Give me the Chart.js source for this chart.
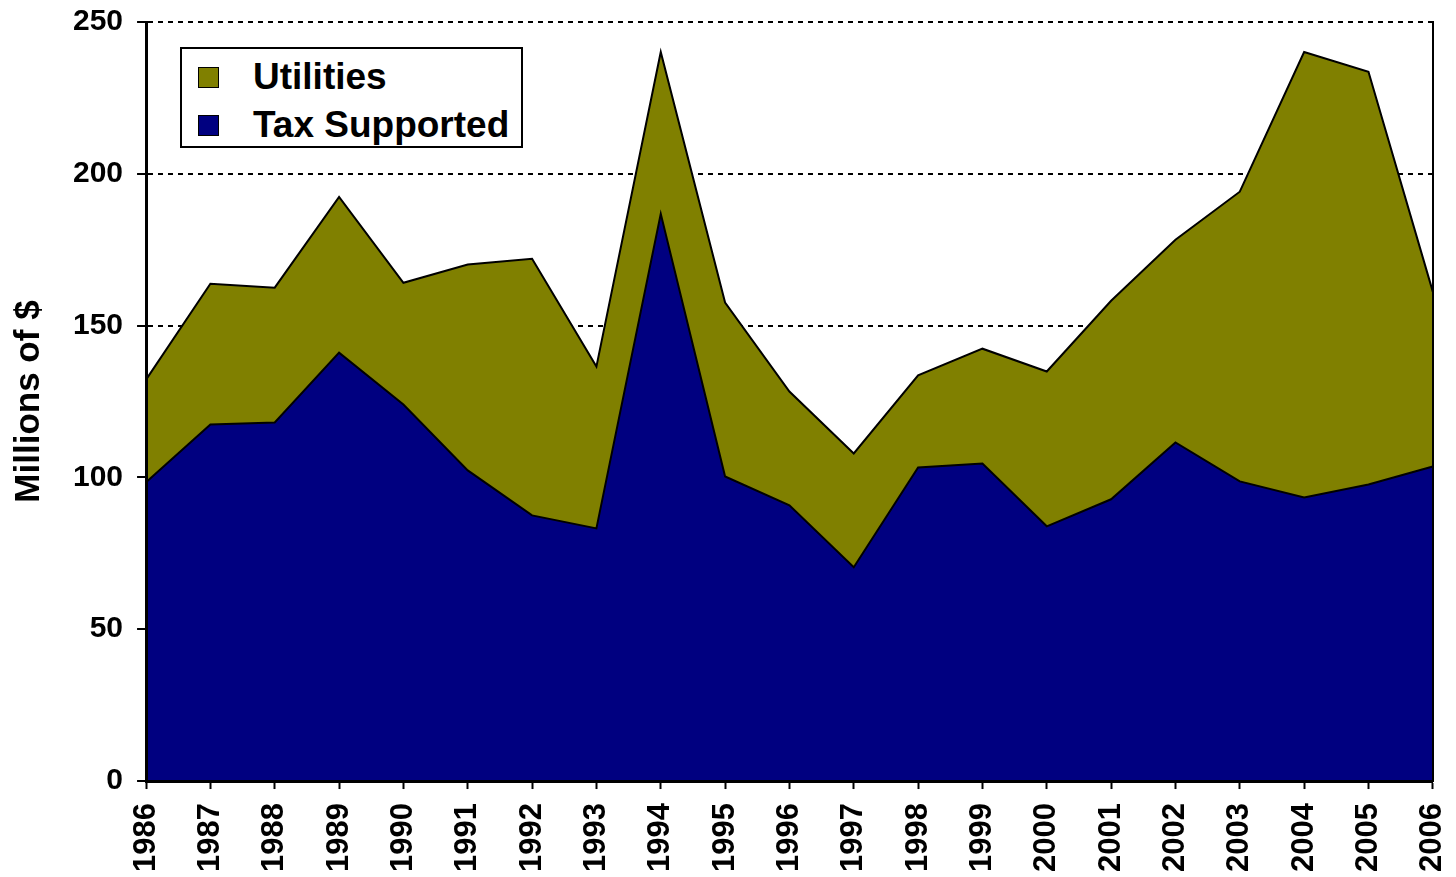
<!DOCTYPE html>
<html>
<head>
<meta charset="utf-8">
<script src="https://cdn.jsdelivr.net/npm/chart.js@4.4.0/dist/chart.umd.min.js"></script>
<style>
  body { margin: 0; background: #fff; overflow: hidden; }
  #wrap { position: relative; width: 1456px; height: 877px; overflow: hidden; }
  #box { position: absolute; left: 0; top: -10px; width: 1484px; height: 904px; }
  #legend {
    position: absolute; left: 180px; top: 47px; width: 339px; height: 97px;
    border: 2px solid #000; background: #fff;
    font-family: "Liberation Sans", Arial, sans-serif; font-weight: bold; font-size: 37px;
  }
  .item { position: absolute; left: 16px; height: 40px; line-height: 40px; white-space: nowrap; }
  .sw { position: absolute; left: 0; top: 10px; width: 19px; height: 19px; border: 1px solid #000; }
  .lbl { position: absolute; left: 55px; top: 0; }
</style>
</head>
<body>
<div id="wrap">
  <div id="box"><canvas id="chart"></canvas></div>
  <div id="legend">
    <div class="item" style="top:8px"><div class="sw" style="background:#808000"></div><span class="lbl">Utilities</span></div>
    <div class="item" style="top:56px"><div class="sw" style="background:#000080"></div><span class="lbl">Tax Supported</span></div>
  </div>
</div>
<script>
//Data
var years = ['1986','1987','1988','1989','1990','1991','1992','1993','1994','1995','1996',
	'1997','1998','1999','2000','2001','2002','2003','2004','2005','2006'];
var taxSupported = [98.4, 117.4, 118.1, 141.1, 124.0, 102.3, 87.5, 83.2, 186.8, 100.3, 90.8,
	70.4, 103.3, 104.6, 83.9, 92.8, 111.5, 98.7, 93.4, 97.7, 103.6];
var utilities = [33.8, 46.4, 44.4, 51.3, 40.1, 67.8, 84.5, 53.3, 53.3, 57.3, 37.5,
	37.5, 30.3, 37.8, 51.0, 65.4, 66.8, 95.4, 146.7, 135.9, 57.6];
var yTicks = [0, 50, 100, 150, 200, 250];

var font = 'Liberation Sans, Arial, sans-serif';

//Render chart
var chart = new Chart(document.getElementById('chart'), {
	type: 'line',
	data: {
		labels: years,
		datasets: [{
			label: 'Tax Supported',
			data: taxSupported,
			fill: 'origin',
			backgroundColor: '#000080',
			borderColor: '#000000',
			borderWidth: 2,
			pointRadius: 0,
			tension: 0
		},{
			label: 'Utilities',
			data: utilities,
			fill: '-1',
			backgroundColor: '#808000',
			borderColor: '#000000',
			borderWidth: 2,
			pointRadius: 0,
			tension: 0
		}]
	},
	options: {
		responsive: true,
		maintainAspectRatio: false,
		animation: false,
		layout: {
			padding: { left: 8, right: 0, top: 0, bottom: 8 }
		},
		scales: {
			x: {
				offset: false,
				grid: {
					drawOnChartArea: false,
					drawTicks: true,
					tickLength: 8,
					tickWidth: 2,
					color: '#000000'
				},
				border: { color: '#000000', width: 3, z: 1 },
				ticks: {
					maxRotation: 90,
					minRotation: 90,
					autoSkip: false,
					padding: 14,
					color: '#000000',
					font: { family: font, weight: 'bold', size: 31 }
				}
			},
			y: {
				stacked: true,
				min: 0,
				max: 250,
				afterBuildTicks: function(axis) {
					axis.ticks = yTicks.map(function(v) { return { value: v }; });
				},
				grid: {
					color: '#000000',
					lineWidth: 2,
					tickLength: 9,
					tickWidth: 2,
					tickColor: '#000000'
				},
				border: { color: '#000000', width: 3, dash: [5, 5], z: 1 },
				title: {
					display: true,
					text: 'Millions of $',
					color: '#000000',
					padding: { top: 0, bottom: 9 },
					font: { family: font, weight: 'bold', size: 35 }
				},
				ticks: {
					padding: 14,
					color: '#000000',
					font: { family: font, weight: 'bold', size: 30 }
				}
			},
			y2: {
				position: 'right',
				grid: { drawOnChartArea: false, drawTicks: false },
				border: { color: '#000000', width: 2, z: 1 },
				ticks: { display: false }
			}
		},
		plugins: {
			legend: { display: false },
			tooltip: { enabled: false }
		}
	}
});
</script>
</body>
</html>
